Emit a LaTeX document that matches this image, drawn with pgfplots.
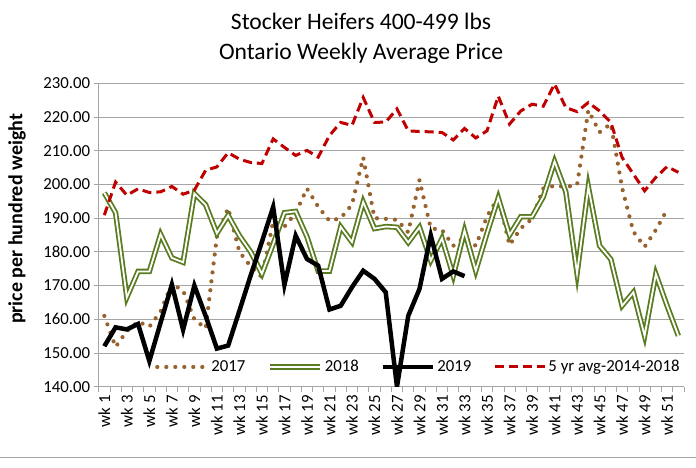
\documentclass[border=0pt]{standalone}
\usepackage{pgfplots}
\pgfplotsset{compat=1.18}
\usepackage{fontspec}
\setmainfont{Carlito}
\definecolor{c17}{RGB}{151,98,45}
\definecolor{c18}{RGB}{90,124,32}
\definecolor{c5y}{RGB}{192,0,0}
\definecolor{gridc}{RGB}{165,165,165}
\begin{document}
\begin{tikzpicture}[x=1pt,y=1pt]
\path[use as bounding box] (-98.7,-81.3) rectangle (597.3,386.7);
\begin{axis}[
  scale only axis, width=585.3pt, height=303.4pt,
  at={(0,0)}, anchor=south west,
  xmin=0.5, xmax=52.5, ymin=140, ymax=230,
  axis x line*=bottom, axis y line*=left,
  axis line style={draw=gridc, line width=0.8pt, -},
  /pgf/number format/assume math mode=true,
  ytick={140,150,...,230},
  ymajorgrids, grid style={draw=gridc, line width=0.8pt},
  yticklabel style={font=\fontsize{16.8}{18}\selectfont, /pgf/number format/fixed, /pgf/number format/fixed zerofill, /pgf/number format/precision=2},
  xtick={1,3,...,51},
  xticklabels={wk 1,wk 3,wk 5,wk 7,wk 9,wk 11,wk 13,wk 15,wk 17,wk 19,wk 21,wk 23,wk 25,wk 27,wk 29,wk 31,wk 33,wk 35,wk 37,wk 39,wk 41,wk 43,wk 45,wk 47,wk 49,wk 51},
  xticklabel style={rotate=90, anchor=east, font=\fontsize{16.8}{18}\selectfont},
  minor xtick={0.5,1.5,...,52.5},
  tick align=outside,
  major tick length=5pt, minor tick length=5pt,
  major x tick style={draw=none},
  minor x tick style={draw=gridc, line width=0.8pt},
  major y tick style={draw=gridc, line width=0.8pt},
  legend columns=4,
  legend style={at={(0.0962,0.065)}, anchor=west, draw=none, fill=none, inner sep=0pt,
     font=\fontsize{16.8}{18}\selectfont,
     /tikz/every even column/.append style={column sep=20pt}},
  legend image code/.code={\draw[#1] (0pt,0pt) -- (50pt,0pt);},
]
\addplot[c17, line width=4.2pt, line cap=round, dash pattern=on 0pt off 9pt] coordinates {
(1,161) (2,151.8) (3,156.5) (4,159.3) (5,157.8) (6,162.3) (7,170.5) (8,168.5) (9,160) (10,157.3)
(11,184.5) (12,193) (13,180) (14,175.7) (15,172.5) (16,189) (17,187.5) (18,191.5) (19,198.8) (20,193.4)
(21,189.2) (22,190) (23,194) (24,208) (25,190) (26,189.8) (27,189.5) (28,185.8) (29,201.3) (30,187)
(31,186.5) (32,181.8) (33,184.3) (34,181.8) (35,190.5) (36,196.2) (37,182) (38,187) (39,189.8) (40,198.8)
(41,199.6) (42,199.3) (43,199.8) (44,222) (45,215.5) (46,218) (47,199) (48,186) (49,181.5) (50,186.5)
(51,192.5)};
\addlegendentry{2017}
\addplot[c18, line width=1.8pt, double=white, double distance=1.8pt] coordinates {
(1,197.5) (2,191.6) (3,166.5) (4,174.2) (5,174.2) (6,185.2) (7,178.2) (8,176.9) (9,197.3) (10,194)
(11,185.5) (12,190.8) (13,184.8) (14,180) (15,173.5) (16,182.3) (17,191.6) (18,192) (19,184.5) (20,174.3)
(21,174.3) (22,187.4) (23,182.9) (24,194.8) (25,186.9) (26,187.5) (27,187.3) (28,182.8) (29,187.3) (30,177.4)
(31,184) (32,172.9) (33,186.3) (34,174.4) (35,185.5) (36,196) (37,185) (38,190.4) (39,190.4) (40,196.3)
(41,206.8) (42,197.8) (43,173.6) (44,199.3) (45,181.8) (46,177.8) (47,164) (48,168) (49,155.1) (50,173.4)
(51,164) (52,155.1)};
\addlegendentry{2018}
\addplot[black, line width=4.5pt] coordinates {
(1,152) (2,157.6) (3,157) (4,158.6) (5,147.6) (6,159) (7,170.3) (8,156.9) (9,170) (10,161)
(11,151.3) (12,152.2) (13,162.5) (14,173) (15,183) (16,193.3) (17,170.2) (18,184.8) (19,177.9) (20,175.9)
(21,162.9) (22,164) (23,169.5) (24,174.4) (25,172) (26,168) (27,140) (28,161) (29,169) (30,184.9)
(31,172) (32,174.2) (33,172.8)};
\addlegendentry{2019}
\addplot[c5y, line width=3pt, dash pattern=on 9pt off 5pt] coordinates {
(1,190.9) (2,200.7) (3,196.8) (4,198.7) (5,197.6) (6,197.8) (7,199.4) (8,197.1) (9,198.3) (10,204.2)
(11,205.2) (12,209.4) (13,207.5) (14,206.5) (15,206.2) (16,213.5) (17,211) (18,208.6) (19,210.1) (20,208.1)
(21,214.5) (22,218.4) (23,217.5) (24,225.8) (25,218.4) (26,218.5) (27,222.4) (28,215.9) (29,215.7) (30,215.6)
(31,215.4) (32,213.2) (33,216.6) (34,213.8) (35,215.9) (36,226.2) (37,217.9) (38,221.8) (39,223.8) (40,223.2)
(41,229.8) (42,222.8) (43,221.6) (44,224.3) (45,221.8) (46,218.4) (47,208) (48,203.1) (49,198.1) (50,202.1)
(51,205.3) (52,203.6)};
\addlegendentry{5 yr avg-2014-2018}
\end{axis}
\node[align=center, font=\fontsize{23.6}{30}\selectfont] at (262.3,348.7) {Stocker Heifers 400-499 lbs\\Ontario Weekly Average Price};
\node[rotate=90, font=\bfseries\fontsize{20}{24}\selectfont] at (-81.7,167.7) {price per hundred weight};
\draw[gridc, line width=0.8pt] (-98.7,-70.3) -- (597.3,-70.3);
\end{tikzpicture}
\end{document}
